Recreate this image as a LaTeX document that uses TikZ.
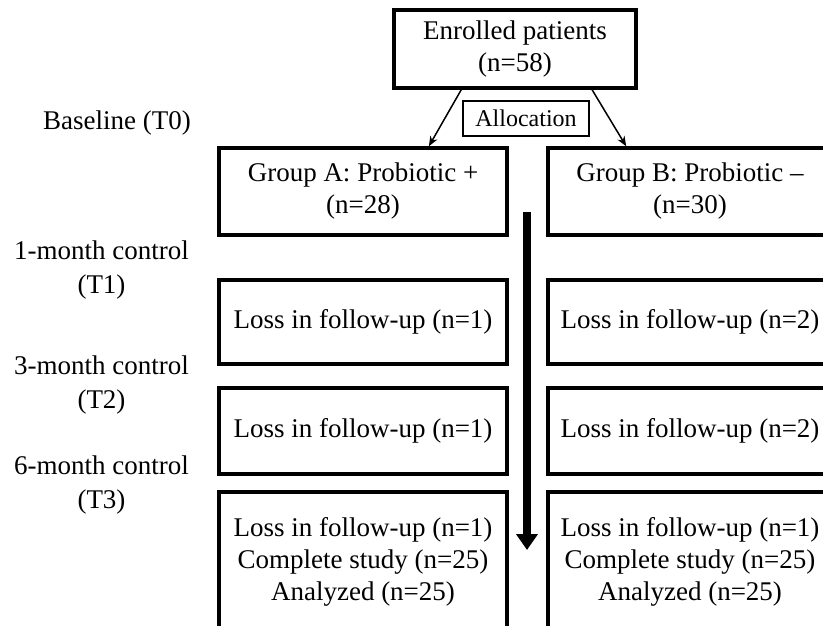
\documentclass[tikz,border=0pt]{standalone}
\usepackage{fontspec}
\setmainfont{Liberation Serif}
\usetikzlibrary{arrows.meta,calc}
\begin{document}
\begin{tikzpicture}[x=1pt,y=-1pt,
  box/.style={draw, line width=3.5pt, rectangle, align=center, inner sep=0pt, font=\fontsize{27}{32}\selectfont},
  lbl/.style={align=center, inner sep=0pt, font=\fontsize{27}{34}\selectfont},
  thinarrow/.style={line width=1.5pt, -{Stealth[length=10pt,width=8pt]}},
  bigarrow/.style={line width=8pt, -{Triangle[length=16pt,width=21pt]}}]
\useasboundingbox (0,0) rectangle (823,625);
\clip (0,0) rectangle (823,625);
\fill[white] (0,0) rectangle (823,625);
% top
\node[box, minimum width=242pt, minimum height=78pt] (enr) at (515,49) {Enrolled patients\\(n=58)};
\node[box, line width=1.8pt, minimum width=126pt, minimum height=35pt, font=\fontsize{24}{28}\selectfont] (alloc) at (526,118.5) {Allocation};
% groups
\node[box, minimum width=288pt, minimum height=87pt] (ga) at (363,191.5) {Group A: Probiotic +\\(n=28)};
\node[box, minimum width=284pt, minimum height=87pt] (gb) at (690,191.5) {Group B: Probiotic –\\(n=30)};
% row 1
\node[box, minimum width=288pt, minimum height=84pt] (la1) at (363,322) {Loss in follow-up (n=1)};
\node[box, minimum width=284pt, minimum height=84pt] (lb1) at (690,322) {Loss in follow-up (n=2)};
% row 2
\node[box, minimum width=288pt, minimum height=86pt] (la2) at (363,431) {Loss in follow-up (n=1)};
\node[box, minimum width=284pt, minimum height=86pt] (lb2) at (690,431) {Loss in follow-up (n=2)};
% row 3
\node[box, minimum width=288pt, minimum height=140pt] (la3) at (363,562) {Loss in follow-up (n=1)\\Complete study (n=25)\\Analyzed (n=25)};
\node[box, minimum width=284pt, minimum height=140pt] (lb3) at (690,562) {Loss in follow-up (n=1)\\Complete study (n=25)\\Analyzed (n=25)};
% labels
\node[lbl] (t0) at (117,123) {Baseline (T0)};
\node[lbl] (t1) at (101.5,270.5) {1-month control\\(T1)};
\node[lbl] (t2) at (101.5,384.5) {3-month control\\(T2)};
\node[lbl] (t3) at (101.5,484.5) {6-month control\\(T3)};
% arrows
\draw[thinarrow] ($(enr.south west)!0.281!(enr.south east)$) -- ($(ga.north west)!0.726!(ga.north east)$);
\draw[thinarrow] ($(enr.south west)!0.814!(enr.south east)$) -- ($(gb.north west)!0.278!(gb.north east)$);
\coordinate (ts) at (527,212);
\coordinate (te) at (527,550);
\draw[bigarrow] (ts) -- (te);
\end{tikzpicture}
\end{document}
